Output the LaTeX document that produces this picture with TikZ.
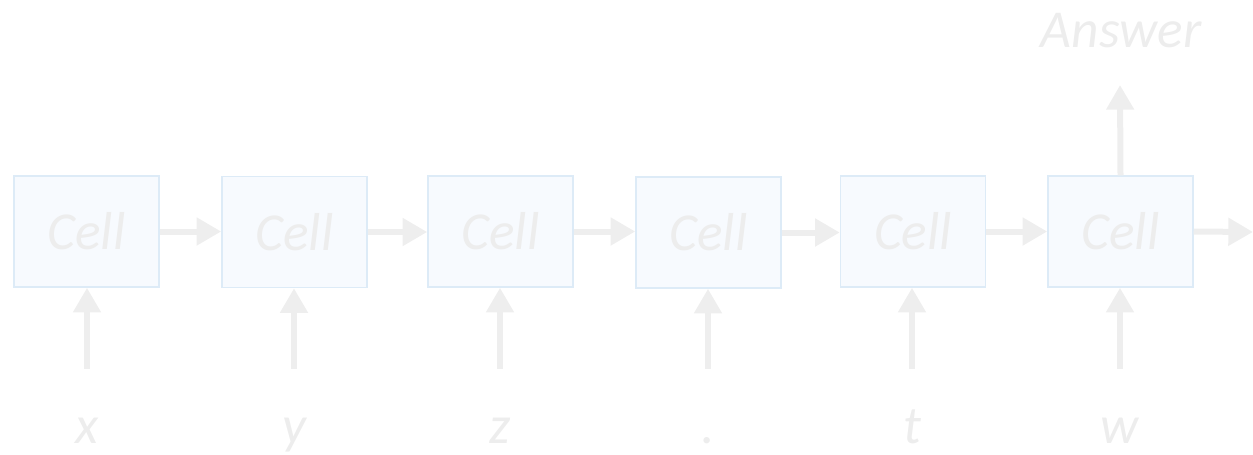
\documentclass[tikz,border=0pt]{standalone}
\usepackage{fontspec}
\setmainfont{Carlito}
\usetikzlibrary{arrows.meta}
\definecolor{inkgray}{HTML}{EDEDED}
\definecolor{cellfill}{HTML}{F7FAFE}
\definecolor{celledge}{HTML}{DDEBF7}
\definecolor{flowgray}{HTML}{EEEEEE}
\begin{document}
\begin{tikzpicture}[x=0.75pt,y=-0.75pt,
  cell/.style={draw=celledge,fill=cellfill,line width=1.1pt,inner sep=0pt,
    minimum width=108.75pt,minimum height=83.25pt,
    font=\fontsize{40}{48}\selectfont\itshape,text=inkgray},
  lbl/.style={inner sep=0pt,anchor=base,font=\fontsize{40}{48}\selectfont\itshape,text=inkgray},
  flow/.style={draw=flowgray,line width=4.5pt,
    -{Triangle[width=20pt,length=18.5pt]}}]
\useasboundingbox (0,0) rectangle (1253,454);
% recurrent cells
\node[cell] (c1) at (86.5,231.5) {Cell};
\node[cell] (c2) at (294.5,232) {Cell};
\node[cell] (c3) at (500.5,231.5) {Cell};
\node[cell] (c4) at (708.5,232.5) {Cell};
\node[cell] (c5) at (913,231.5) {Cell};
\node[cell] (c6) at (1120.5,231.5) {Cell};
% input tokens
\node[lbl] (t1) at (87,443) {x};
\node[lbl] (t2) at (294,443) {y};
\node[lbl] (t3) at (500,443) {z};
\node[lbl] (t4) at (708,443) {.};
\node[lbl] (t5) at (912,443) {t};
\node[lbl] (t6) at (1120,443) {w};
\node[lbl] (ans) at (1121,47) {Answer};
% arrow tails
\coordinate (i1) at (87,369);
\coordinate (i2) at (294,369);
\coordinate (i3) at (500,369);
\coordinate (i4) at (708,369);
\coordinate (i5) at (912,369);
\coordinate (i6) at (1120,369);
\coordinate (outR) at (1253,232);
\coordinate (outU) at (1120,85);
% hidden-state flow
\draw[flow] (c1.east) -- (c2.west |- c1.east);
\draw[flow] (c2.east) -- (c3.west |- c2.east);
\draw[flow] (c3.east) -- (c4.west |- c3.east);
\draw[flow] (c4.east) -- (c5.west |- c4.east);
\draw[flow] (c5.east) -- (c6.west |- c5.east);
\draw[flow] (c6.east) -- (outR);
\draw[flow] (c6.north) -- (outU);
% inputs
\foreach \k in {1,...,6}{\draw[flow] (i\k) -- (i\k |- c\k.south);}
\end{tikzpicture}
\end{document}
